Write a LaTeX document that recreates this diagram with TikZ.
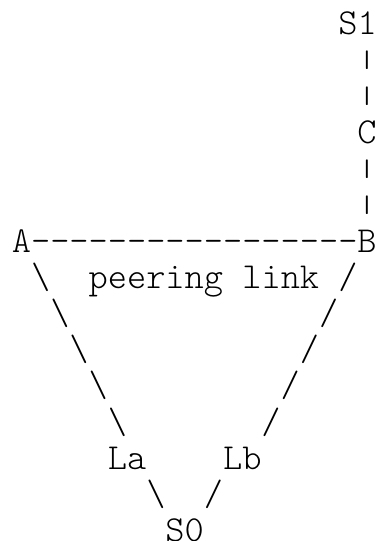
\documentclass[tikz,border=0pt]{standalone}
\usepackage{fontspec}
\setmonofont{Latin Modern Mono Light}
\tikzset{
  chr/.style={inner sep=0pt, outer sep=0pt, anchor=base, text=black,
    font=\ttfamily\fontsize{36.6}{40}\selectfont},
  declare function={gx(\c)=21.5+19.2*\c; gy(\r)=506-36.2*\r;}
}
\newcommand{\vbar}{\raisebox{3.5pt}{\scalebox{1}[0.65]{|}}}
\begin{document}
\begin{tikzpicture}[x=1pt,y=1pt]
\useasboundingbox (0,0) rectangle (375,541);
% labels
\node[chr] (S1) at ({gx(17.5)},{gy(0)}) {S1};
\node[chr] (C)  at ({gx(18)},{gy(3)}) {C};
\node[chr] (A)  at ({gx(0)},{gy(6)}) {A};
\node[chr] (B)  at ({gx(18)},{gy(6)}) {B};
\node[chr] (peer) at ({gx(9.5)},{gy(7)}) {peering link};
\node[chr] (La) at ({gx(5.5)},{gy(12)}) {La};
\node[chr] (Lb) at ({gx(11.5)},{gy(12)}) {Lb};
\node[chr] (S0) at ({gx(8.5)},{gy(14)}) {S0};
% vertical link S1 - C - B
\foreach \r/\n in {1/p1,2/p2,4/p4,5/p5}
  \node[chr] (\n) at ({gx(18)},{gy(\r)}) {\vbar};
% peering link A - B
\foreach \i in {1,...,17}
  \node[chr] (d\i) at ({gx(\i)},{gy(6)}) {-};
% A - La
\foreach \i in {1,...,5}
  \node[chr] (bs\i) at ({gx(\i)},{gy(\i+6)}) {\textbackslash};
% B - Lb
\foreach \i in {1,...,5}
  \node[chr] (fs\i) at ({gx(18-\i)},{gy(\i+6)}) {/};
% La - S0, Lb - S0
\node[chr] (bs6) at ({gx(7)},{gy(13)}) {\textbackslash};
\node[chr] (fs6) at ({gx(10)},{gy(13)}) {/};
\end{tikzpicture}
\end{document}
